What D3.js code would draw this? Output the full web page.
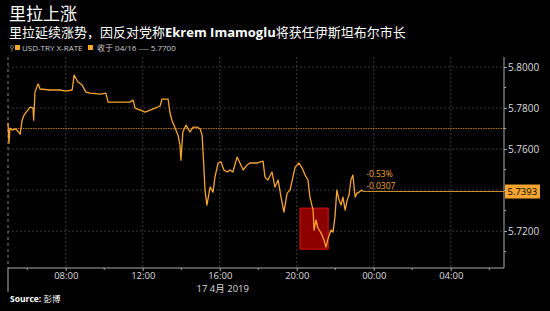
<!DOCTYPE html>
<html>
<head>
<meta charset="utf-8">
<script src="https://cdn.jsdelivr.net/npm/d3@7"></script>
<style>
  html, body { margin: 0; padding: 0; background: #000; }
  svg { display: block; }
  text { font-family: "Open Sans", "Noto Sans CJK SC", sans-serif; }
</style>
</head>
<body>
<div id="chart"></div>
<script>
// USD-TRY intraday, 17 Apr 2019 (times local)
const times = ["05:00","05:03","05:06","05:13","05:25","05:38","05:44","05:50","05:59","06:09",
  "06:18","06:20","06:24","06:31","06:34","06:40","07:11","07:42","08:00","08:20",
  "08:26","08:38","08:51","09:03","09:16","09:47","10:05","10:12","10:43","11:20",
  "11:30","11:36","11:52","12:07","12:23","12:38","12:54","13:00","13:19","13:25",
  "13:31","13:41","13:50","13:56","13:59","14:05","14:15","14:27","14:37","14:49",
  "14:59","15:05","15:11","15:14","15:20","15:30","15:39","15:45","15:55","16:04",
  "16:13","16:23","16:32","16:41","16:54","17:03","17:13","17:25","17:34","17:56",
  "18:15","18:21","18:30","18:43","18:52","19:02","19:11","19:20","19:30","19:39",
  "19:48","19:55","20:07","20:17","20:26","20:35","20:41","20:51","20:54","21:00",
  "21:06","21:16","21:25","21:31","21:38","21:47","21:53","21:59","22:05","22:12",
  "22:18","22:24","22:31","22:37","22:43","22:49","22:55","23:02","23:08","23:14",
  "23:23","23:27"];
const rates = [5.7727,5.7629,5.7702,5.7693,5.7698,5.7673,5.7741,5.7766,5.7785,5.7805,
  5.7800,5.7741,5.7878,5.7907,5.7917,5.7893,5.7888,5.7888,5.7883,5.7888,
  5.7961,5.7927,5.7912,5.7878,5.7873,5.7868,5.7873,5.7829,5.7829,5.7829,
  5.7839,5.7800,5.7790,5.7780,5.7790,5.7800,5.7810,5.7844,5.7844,5.7776,
  5.7741,5.7702,5.7668,5.7620,5.7546,5.7683,5.7717,5.7683,5.7707,5.7707,
  5.7698,5.7668,5.7498,5.7400,5.7327,5.7415,5.7390,5.7463,5.7532,5.7537,
  5.7498,5.7488,5.7498,5.7488,5.7561,5.7532,5.7498,5.7522,5.7532,5.7532,
  5.7541,5.7463,5.7449,5.7488,5.7415,5.7449,5.7366,5.7293,5.7385,5.7400,
  5.7463,5.7512,5.7532,5.7507,5.7473,5.7449,5.7366,5.7302,5.7205,5.7254,
  5.7215,5.7190,5.7156,5.7122,5.7166,5.7205,5.7195,5.7268,5.7400,5.7351,
  5.7327,5.7366,5.7302,5.7351,5.7376,5.7449,5.7473,5.7366,5.7385,5.7390,
  5.7400,5.7393];

const xTicks = ["2019-04-17 08:00","2019-04-17 12:00","2019-04-17 16:00","2019-04-17 20:00","2019-04-18 00:00","2019-04-18 04:00"];
const xMinorTicks = ["2019-04-17 06:00","2019-04-17 10:00","2019-04-17 14:00","2019-04-17 18:00","2019-04-17 22:00","2019-04-18 02:00","2019-04-18 06:00"];
const yTicks = [5.72, 5.74, 5.76, 5.78, 5.80];
const yMinorTicks = [5.71, 5.73, 5.75, 5.77, 5.79];
const prevClose = 5.77;
const lastRate = 5.7393;
const changeLabels = ["-0.53%", "-0.0307"];
const boxTimes = ["20:10", "21:38"];
const boxRates = [5.7312, 5.7112];

const W = 550, H = 311;
const margin = { top: 57, right: 46, bottom: 43, left: 8 };
const width = W - margin.left - margin.right;
const height = H - margin.top - margin.bottom;

const parse = d3.timeParse("%Y-%m-%d %H:%M");
const day = t => parse("2019-04-17 " + t);
const data = times.map((t, i) => ({ date: day(t), v: rates[i] }));

const orange = "#f6a530";

const svg = d3.select("#chart").append("svg")
  .attr("width", W).attr("height", H);

// header
svg.append("text").attr("x", 9).attr("y", 20)
  .text("里拉上涨").style("fill", "#fff").style("font-size", "17px");

const sub = svg.append("text").attr("x", 9).attr("y", 37)
  .style("fill", "#fff").style("font-size", "13px");
sub.append("tspan").text("里拉延续涨势，因反对党称");
sub.append("tspan").text("Ekrem Imamoglu").style("font-weight", "bold");
sub.append("tspan").text("将获任伊斯坦布尔市长");

// legend
svg.append("circle").attr("cx", 12).attr("cy", 47).attr("r", 1.5)
  .style("fill", "none").style("stroke", "#888").style("stroke-width", 0.8);
svg.append("line").attr("x1", 12).attr("x2", 12).attr("y1", 48.5).attr("y2", 52)
  .style("stroke", "#888").style("stroke-width", 0.8);
svg.append("rect").attr("x", 15).attr("y", 45).attr("width", 5).attr("height", 5).style("fill", orange);
svg.append("text").attr("x", 22).attr("y", 51).text("USD-TRY X-RATE")
  .style("fill", "#ccc").style("font-size", "8px");
svg.append("rect").attr("x", 88).attr("y", 45).attr("width", 5).attr("height", 5).style("fill", orange);
svg.append("text").attr("x", 97).attr("y", 51).text("收于 04/16 ---- 5.7700")
  .style("fill", "#ccc").style("font-size", "8px");

const g = svg.append("g").attr("transform", `translate(${margin.left}, ${margin.top})`);

const x = d3.scaleTime()
  .domain([parse("2019-04-17 05:00"), parse("2019-04-18 06:46")])
  .range([0, width]);
const y = d3.scaleLinear()
  .domain([5.7020, 5.8049])
  .range([height, 0]);

// grid
g.selectAll(".hgrid").data(yTicks).enter().append("line")
  .attr("x1", 0).attr("x2", width)
  .attr("y1", d => y(d)).attr("y2", d => y(d))
  .style("stroke", "#4a4a4a").style("stroke-dasharray", "2,2").style("stroke-width", 0.8);
g.selectAll(".vgrid").data(xTicks.map(parse)).enter().append("line")
  .attr("x1", d => x(d)).attr("x2", d => x(d))
  .attr("y1", 0).attr("y2", height)
  .style("stroke", "#4a4a4a").style("stroke-dasharray", "2,2").style("stroke-width", 0.8);

// left dashed edge
g.append("line").attr("x1", 0).attr("x2", 0).attr("y1", 0).attr("y2", height)
  .style("stroke", "#888").style("stroke-dasharray", "3,3").style("stroke-width", 1);
g.append("line").attr("x1", 0).attr("x2", 0).attr("y1", height).attr("y2", height + 24)
  .style("stroke", "#aaa").style("stroke-width", 1);

// previous close
g.append("line").attr("x1", 0).attr("x2", width)
  .attr("y1", y(prevClose)).attr("y2", y(prevClose))
  .style("stroke", "#c07a1c").style("stroke-dasharray", "1.5,1").style("stroke-width", 1);

// red highlight box
g.append("rect")
  .attr("x", x(day(boxTimes[0])))
  .attr("y", y(boxRates[0]))
  .attr("width", x(day(boxTimes[1])) - x(day(boxTimes[0])))
  .attr("height", y(boxRates[1]) - y(boxRates[0]))
  .style("fill", "#b00000").style("fill-opacity", 0.8)
  .style("stroke", "#e01010").style("stroke-width", 1);

// last value line
const last = data[data.length - 1];
g.append("line").attr("x1", x(last.date)).attr("x2", width)
  .attr("y1", y(lastRate)).attr("y2", y(lastRate))
  .style("stroke", "#c88a2a").style("stroke-width", 1);

// price line
g.append("path").datum(data)
  .attr("d", d3.line().x(d => x(d.date)).y(d => y(d.v)))
  .style("fill", "none").style("stroke", orange).style("stroke-width", 1.3)
  .style("stroke-linejoin", "round");

// change labels
g.selectAll(".chg").data(changeLabels).enter().append("text")
  .attr("x", x(last.date) + 3)
  .attr("y", (d, i) => y(lastRate) - 15 + i * 12)
  .text(d => d)
  .style("fill", orange).style("font-size", "8.5px");

// right axis
const yAxis = g.append("g").attr("transform", `translate(${width}, 0)`)
  .call(d3.axisRight(y).tickValues(yTicks).tickSize(3).tickFormat(d3.format(".4f")));
yAxis.select(".domain").remove();
yAxis.selectAll("line").style("stroke", "#aaa");
yAxis.selectAll("text").style("fill", "#ddd").style("font-size", "10px")
  .style("font-family", "'Open Sans', sans-serif").attr("x", 4);
yAxis.selectAll(".tick").filter(d => d === 5.74).select("text").remove();
g.selectAll(".yminor").data(yMinorTicks).enter().append("line")
  .attr("x1", width).attr("x2", width + 2)
  .attr("y1", d => y(d)).attr("y2", d => y(d))
  .style("stroke", "#aaa");
g.append("line").attr("x1", width).attr("x2", width).attr("y1", 0).attr("y2", height)
  .style("stroke", "#aaa").style("stroke-width", 1);

// last value label
const lbl = g.append("g").attr("transform", `translate(${width + 1}, ${y(lastRate)})`);
lbl.append("rect").attr("x", 0).attr("y", -7).attr("width", 35).attr("height", 14)
  .style("fill", orange);
lbl.append("text").attr("x", 2.5).attr("y", 3.5).text(d3.format(".4f")(lastRate))
  .style("fill", "#000").style("font-size", "9.5px");

// bottom axis
const xAxis = g.append("g").attr("transform", `translate(0, ${height})`)
  .call(d3.axisBottom(x).tickValues(xTicks.map(parse)).tickSize(3).tickFormat(d3.timeFormat("%H:%M")));
xAxis.select(".domain").remove();
xAxis.selectAll("line").style("stroke", "#aaa");
xAxis.selectAll("text").style("fill", "#ddd").style("font-size", "9.5px")
  .style("font-family", "'Open Sans', sans-serif").attr("y", 4);
g.selectAll(".xminor").data(xMinorTicks.map(parse)).enter().append("line")
  .attr("x1", d => x(d)).attr("x2", d => x(d))
  .attr("y1", height).attr("y2", height + 2)
  .style("stroke", "#aaa");
g.append("line").attr("x1", 0).attr("x2", width).attr("y1", height).attr("y2", height)
  .style("stroke", "#aaa").style("stroke-width", 1);

g.append("text").attr("x", x(parse("2019-04-17 16:00")) + 3).attr("y", height + 24)
  .attr("text-anchor", "middle").text("17 4月 2019")
  .style("fill", "#ddd").style("font-size", "9.5px");

// source
const src = svg.append("text").attr("x", 10).attr("y", 302)
  .style("fill", "#fff").style("font-size", "8.5px");
src.append("tspan").text("Source: ").style("font-weight", "bold");
src.append("tspan").text("彭博");
</script>
</body>
</html>
